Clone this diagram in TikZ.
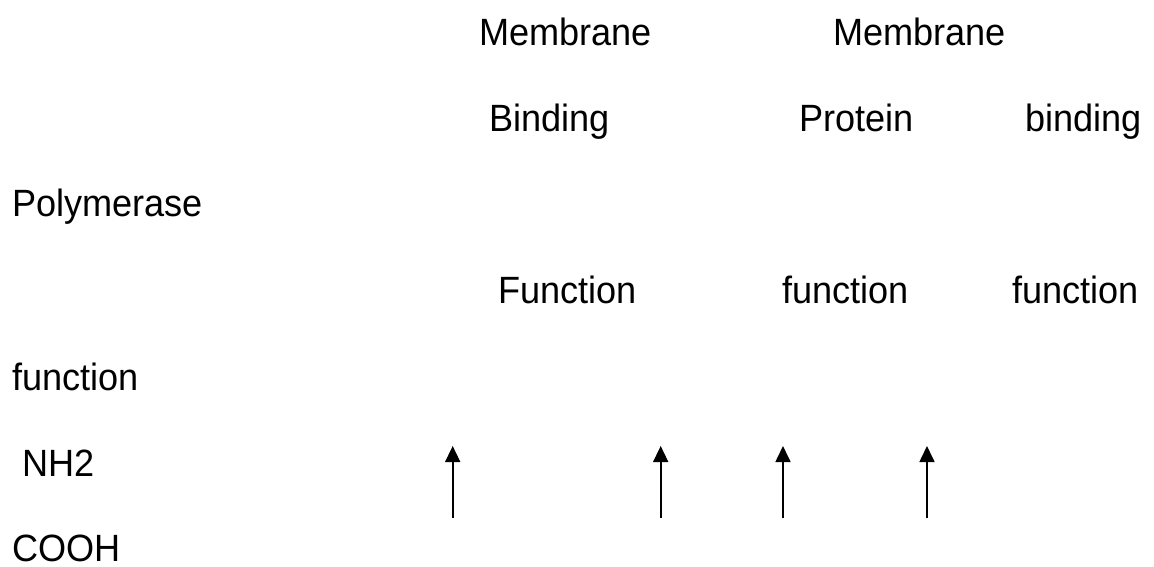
\documentclass[tikz,border=0pt]{standalone}
\usepackage{fontspec}
\setmainfont{Liberation Sans}[FakeStretch=0.95]
\usetikzlibrary{arrows.meta}
\begin{document}
\begin{tikzpicture}[x=1bp,y=-1bp,
  lbl/.style={anchor=base west,inner sep=0pt,outer sep=0pt,
    font=\fontsize{38bp}{42bp}\selectfont},
  uparrow/.style={line width=1.6bp,-{Triangle[width=15bp,length=16bp]}}]
  \useasboundingbox (0,0) rectangle (1154,567);
  % header rows
  \node[lbl] (mem1) at (479,46) {Membrane};
  \node[lbl] (mem2) at (833,46) {Membrane};
  \node[lbl] (bind1) at (489,132) {Binding};
  \node[lbl] (prot) at (799,132) {Protein};
  \node[lbl] (bind2) at (1025,132) {binding};
  \node[lbl] (poly) at (12,217) {Polymerase};
  \node[lbl] (func1) at (498,304) {Function};
  \node[lbl] (func2) at (782,304) {function};
  \node[lbl] (func3) at (1012,304) {function};
  \node[lbl] (func4) at (12,390) {function};
  \node[lbl] (nh2) at (22,476) {NH2};
  \node[lbl] (cooh) at (12,561) {COOH};
  % site markers
  \foreach \i/\x in {1/452.7,2/660.7,3/783,4/927}{
    \coordinate (s\i) at (\x,518);
    \coordinate (t\i) at (\x,446);
    \draw[uparrow] (s\i) -- (t\i);
  }
\end{tikzpicture}
\end{document}
